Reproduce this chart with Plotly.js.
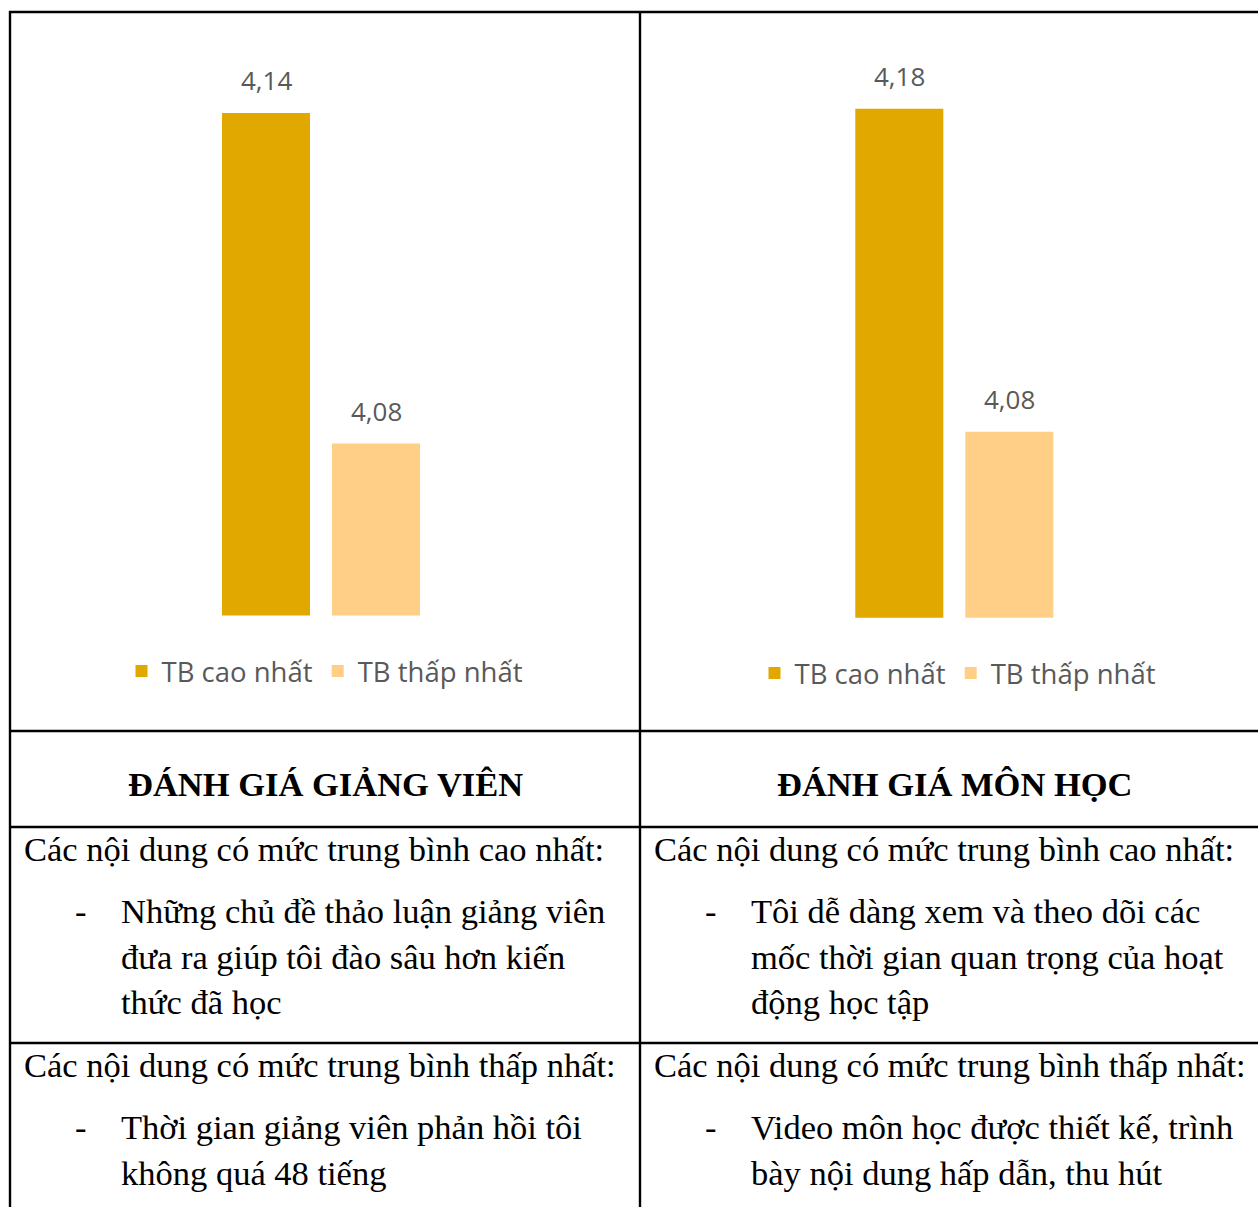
<!DOCTYPE html>
<html>
<head>
<meta charset="utf-8">
<script src="https://cdn.plot.ly/plotly-3.0.1.min.js"></script>
<style>html,body{margin:0;padding:0;background:#fff;}#chart{width:1258px;height:1207px;}</style>
</head>
<body>
<div id="chart"></div>
<script>
// ---- data ----
const seriesNames = ["TB cao nhất", "TB thấp nhất"];
const categoryLeft = ["Giảng viên"];
const categoryRight = ["Môn học"];
const valuesLeft = [4.14, 4.08];   // TB cao nhất, TB thấp nhất
const valuesRight = [4.18, 4.08];

const headerLeft = "ĐÁNH GIÁ GIẢNG VIÊN";
const headerRight = "ĐÁNH GIÁ MÔN HỌC";
const highIntro = "Các nội dung có mức trung bình cao nhất:";
const lowIntro = "Các nội dung có mức trung bình thấp nhất:";
const leftHighItems = ["Những chủ đề thảo luận giảng viên", "đưa ra giúp tôi đào sâu hơn kiến", "thức đã học"];
const rightHighItems = ["Tôi dễ dàng xem và theo dõi các", "mốc thời gian quan trọng của hoạt", "động học tập"];
const leftLowItems = ["Thời gian giảng viên phản hồi tôi", "không quá 48 tiếng"];
const rightLowItems = ["Video môn học được thiết kế, trình", "bày nội dung hấp dẫn, thu hút"];

// ---- styling ----
const W = 1258, H = 1207;
const colors = ["#E1A800", "#FFCF88"];
const px = v => v / W;
const py = v => 1 - v / H;

const traces = [];
seriesNames.forEach((name, i) => {
  traces.push({type: "bar", name: name, x: categoryLeft, y: [valuesLeft[i]],
    xaxis: "x", yaxis: "y", legend: "legend",
    marker: {color: colors[i]}, hoverinfo: "skip"});
});
seriesNames.forEach((name, i) => {
  traces.push({type: "bar", name: name, x: categoryRight, y: [valuesRight[i]],
    xaxis: "x2", yaxis: "y2", legend: "legend2",
    marker: {color: colors[i]}, hoverinfo: "skip"});
});

const fmt = v => v.toFixed(2).replace(".", ",");
const annotations = [];
const labelFont = {family: "Open Sans, sans-serif", size: 26, color: "#595959"};
const slot = 110;
seriesNames.forEach((name, i) => {
  annotations.push({xref: "x", yref: "y", x: categoryLeft[0], y: valuesLeft[i], text: fmt(valuesLeft[i]),
    showarrow: false, xshift: (i - 0.5) * slot, yanchor: "bottom", yshift: 13, font: labelFont});
  annotations.push({xref: "x2", yref: "y2", x: categoryRight[0], y: valuesRight[i], text: fmt(valuesRight[i]),
    showarrow: false, xshift: (i - 0.5) * slot, yanchor: "bottom", yshift: 13, font: labelFont});
});

const serif = "Liberation Serif, Times New Roman, serif";
const textFont = {family: serif, size: 34.5, color: "#000"};
function addLine(text, x, y, anchor, font) {
  annotations.push({xref: "paper", yref: "paper", x: px(x), y: py(y), text: text, showarrow: false,
    xanchor: anchor || "left", yanchor: "middle", font: font || textFont});
}
addLine("<b>" + headerLeft + "</b>", 325, 784, "center");
addLine("<b>" + headerRight + "</b>", 955, 784, "center");

function addColumn(x0, high, low) {
  addLine(highIntro, x0, 849);
  high.forEach((t, k) => {
    if (k === 0) addLine("-", x0 + 51, 911);
    addLine(t, x0 + 97, 911 + k * 45.5);
  });
  addLine(lowIntro, x0, 1065);
  low.forEach((t, k) => {
    if (k === 0) addLine("-", x0 + 51, 1127);
    addLine(t, x0 + 97, 1127 + k * 45.5);
  });
}
addColumn(22, leftHighItems, leftLowItems);
addColumn(652, rightHighItems, rightLowItems);

const line = {color: "#000", width: 2.4};
const shapes = [
  {type: "line", xref: "paper", yref: "paper", x0: px(10), x1: px(10), y0: py(11), y1: py(1210), line},
  {type: "line", xref: "paper", yref: "paper", x0: px(640), x1: px(640), y0: py(11), y1: py(1210), line},
  {type: "line", xref: "paper", yref: "paper", x0: px(9), x1: px(1260), y0: py(12), y1: py(12), line},
  {type: "line", xref: "paper", yref: "paper", x0: px(9), x1: px(1260), y0: py(731), y1: py(731), line},
  {type: "line", xref: "paper", yref: "paper", x0: px(9), x1: px(1260), y0: py(827), y1: py(827), line},
  {type: "line", xref: "paper", yref: "paper", x0: px(9), x1: px(1260), y0: py(1043), y1: py(1043), line}
];

const legendFont = {family: "Open Sans, sans-serif", size: 27.5, color: "#595959"};
const hiddenAxis = {visible: false, fixedrange: true, showgrid: false, zeroline: false};
const layout = {
  width: W, height: H,
  margin: {l: 0, r: 0, t: 0, b: 0},
  paper_bgcolor: "#fff", plot_bgcolor: "rgba(0,0,0,0)",
  barmode: "group", bargap: 0.5785, bargroupgap: 0.2,
  showlegend: true,
  xaxis: Object.assign({type: "category", domain: [px(60), px(582)], anchor: "y"}, hiddenAxis),
  yaxis: Object.assign({domain: [py(615.5), py(60)], range: [4.0488, 4.1496], anchor: "x"}, hiddenAxis),
  xaxis2: Object.assign({type: "category", domain: [px(693.3), px(1215.3)], anchor: "y2"}, hiddenAxis),
  yaxis2: Object.assign({domain: [py(617.7), py(60)], range: [4.0224, 4.1951], anchor: "x2"}, hiddenAxis),
  legend: {orientation: "h", x: px(325), xanchor: "center", y: py(671), yanchor: "middle",
    font: legendFont, bgcolor: "rgba(0,0,0,0)", itemwidth: 30, traceorder: "normal"},
  legend2: {orientation: "h", x: px(958), xanchor: "center", y: py(673), yanchor: "middle",
    font: legendFont, bgcolor: "rgba(0,0,0,0)", itemwidth: 30, traceorder: "normal"},
  annotations: annotations,
  shapes: shapes
};

Plotly.newPlot("chart", traces, layout, {staticPlot: true, displayModeBar: false});
</script>
</body>
</html>
